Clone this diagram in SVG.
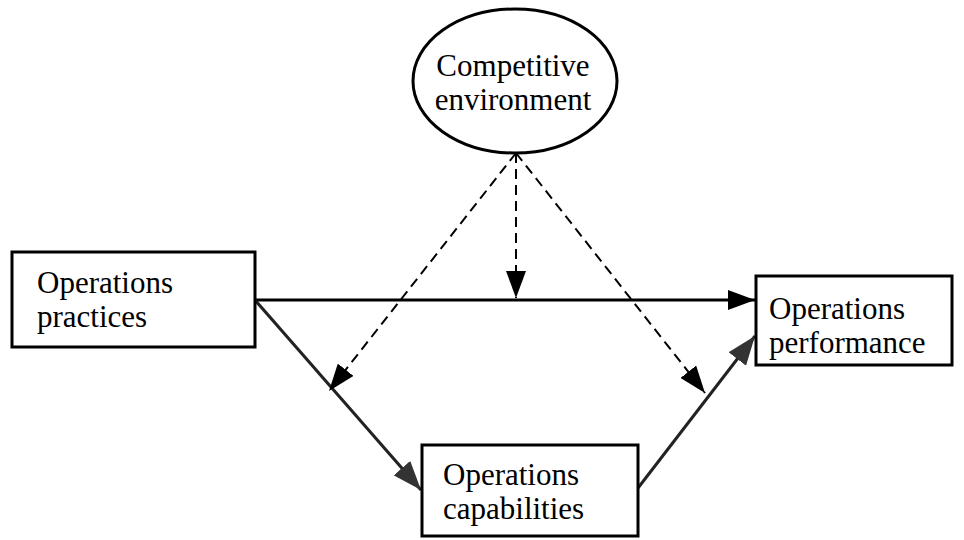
<svg xmlns="http://www.w3.org/2000/svg" width="964" height="540" viewBox="0 0 964 540">
<style>
.box{fill:#fff;stroke:#000;stroke-width:3}
.t{font-family:"Liberation Serif","Times New Roman",serif;font-size:31px;fill:#000}
.solid{stroke:#000;stroke-width:3;fill:none}
.gray{stroke:#222;stroke-width:3;fill:none}
.dash{stroke:#000;stroke-width:2;fill:none;stroke-dasharray:10 6}
</style>
<defs>
<marker id="ah" markerUnits="userSpaceOnUse" markerWidth="28" markerHeight="20" refX="27" refY="10" orient="auto">
<path d="M0,0 L27,10 L0,20 Z" fill="#000"/>
</marker>
<marker id="ahg" markerUnits="userSpaceOnUse" markerWidth="30" markerHeight="22" refX="29" refY="11" orient="auto">
<path d="M0,0 L29,11 L0,22 Z" fill="#333"/>
</marker>
</defs>
<g id="connectors">
<line class="solid" x1="255" y1="300" x2="755" y2="300" marker-end="url(#ah)"/>
<line class="gray" x1="255" y1="300" x2="421" y2="490" marker-end="url(#ahg)"/>
<line class="gray" x1="638" y1="488" x2="755" y2="336" marker-end="url(#ahg)"/>
<line class="dash" x1="516" y1="153" x2="516" y2="298" marker-end="url(#ah)"/>
<line class="dash" x1="516" y1="153" x2="329" y2="391" marker-end="url(#ah)"/>
<line class="dash" x1="516" y1="153" x2="705" y2="393" marker-end="url(#ah)"/>
</g>
<g id="competitive">
<ellipse class="box" cx="515" cy="81" rx="102" ry="72"/>
<text class="t" x="513" y="76" text-anchor="middle">Competitive</text>
<text class="t" x="513" y="110" text-anchor="middle">environment</text>
</g>
<g id="practices">
<rect class="box" x="12" y="252" width="243" height="95"/>
<text class="t" x="37" y="293">Operations</text>
<text class="t" x="37" y="327">practices</text>
</g>
<g id="performance">
<rect class="box" x="756" y="276" width="196" height="89"/>
<text class="t" x="769" y="319">Operations</text>
<text class="t" x="769" y="353">performance</text>
</g>
<g id="capabilities">
<rect class="box" x="422" y="445" width="216" height="91"/>
<text class="t" x="443" y="485">Operations</text>
<text class="t" x="443" y="519">capabilities</text>
</g>
</svg>
